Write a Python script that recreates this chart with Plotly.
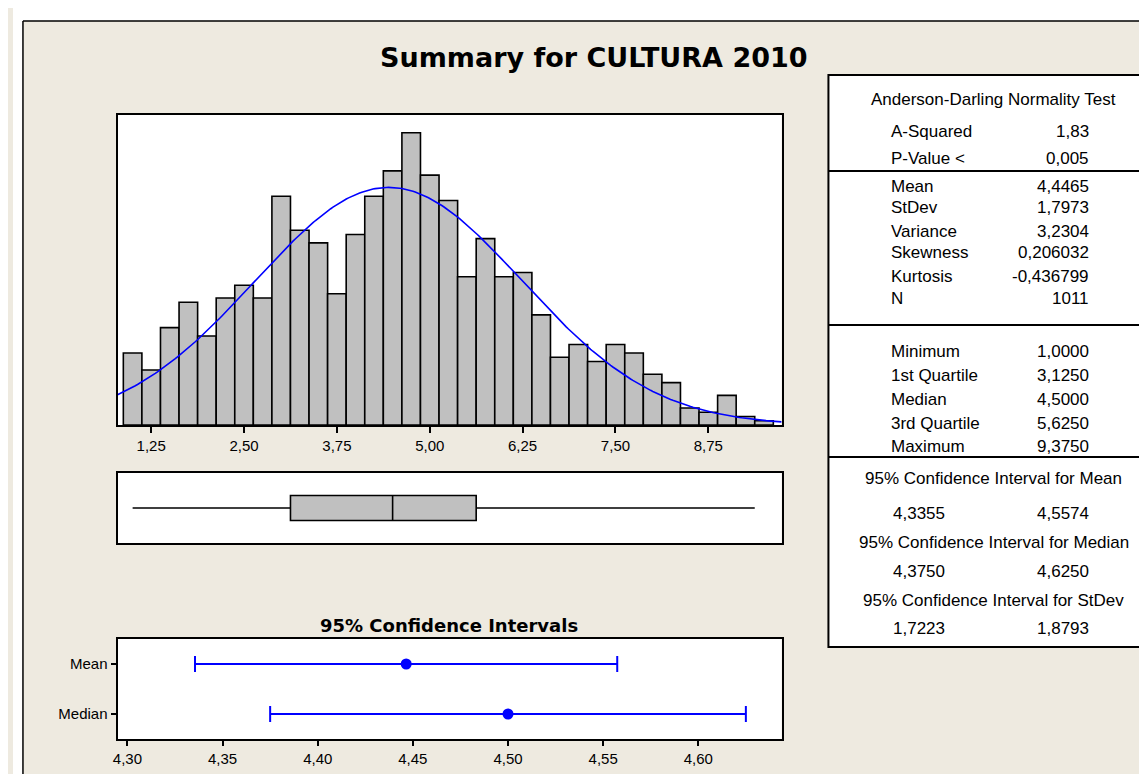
import numpy as np
import plotly.graph_objects as go

# ---------------- data ----------------
BIN_CENTERS = [1.00, 1.25, 1.50, 1.75, 2.00, 2.25, 2.50, 2.75, 3.00, 3.25,
               3.50, 3.75, 4.00, 4.25, 4.50, 4.75, 5.00, 5.25, 5.50, 5.75,
               6.00, 6.25, 6.50, 6.75, 7.00, 7.25, 7.50, 7.75, 8.00, 8.25,
               8.50, 8.75, 9.00, 9.25, 9.50]
COUNTS = [17, 13, 23, 29, 21, 30, 33, 30, 54, 46,
          43, 31, 45, 54, 60, 69, 59, 53, 35, 44,
          35, 36, 26, 16, 19, 15, 19, 17, 12, 10,
          4, 3, 7, 2, 1]
BIN_WIDTH = 0.25

HIST_TICKS = [1.25, 2.50, 3.75, 5.00, 6.25, 7.50, 8.75]
HIST_TICK_LABELS = ["1,25", "2,50", "3,75", "5,00", "6,25", "7,50", "8,75"]

MEAN = 4.4465
STDEV = 1.7973
N = 1011
MINIMUM = 1.0
Q1 = 3.125
MEDIAN = 4.5
Q3 = 5.625
MAXIMUM = 9.375

CI_LABELS = ["Mean", "Median"]
CI_CENTER = [MEAN, MEDIAN]
CI_LOW = [4.3355, 4.3750]
CI_HIGH = [4.5574, 4.6250]
CI_TICKS = [4.30, 4.35, 4.40, 4.45, 4.50, 4.55, 4.60]
CI_TICK_LABELS = ["4,30", "4,35", "4,40", "4,45", "4,50", "4,55", "4,60"]

TITLE = "Summary for CULTURA 2010"
CI_TITLE = "95% Confidence Intervals"

AD_ROWS = [("A-Squared", "1,83"), ("P-Value <", "0,005")]
MOM_ROWS = [("Mean", "4,4465"), ("StDev", "1,7973"), ("Variance", "3,2304"),
            ("Skewness", "0,206032"), ("Kurtosis", "-0,436799"), ("N", "1011")]
QUART_ROWS = [("Minimum", "1,0000"), ("1st Quartile", "3,1250"), ("Median", "4,5000"),
              ("3rd Quartile", "5,6250"), ("Maximum", "9,3750")]
CI_ROWS = [("95% Confidence Interval for Mean", "4,3355", "4,5574"),
           ("95% Confidence Interval for Median", "4,3750", "4,6250"),
           ("95% Confidence Interval for StDev", "1,7223", "1,8793")]

# ---------------- layout helpers ----------------
W, H = 1147, 774
BEIGE = "#EEEAE0"
GREY = "#C0C0C0"
BLUE = "#0000FF"
FONT = "Liberation Sans, Arial, sans-serif"
BOLD_FONT = "DejaVu Sans, Verdana, sans-serif"


def px(x):
    return x / W


def py(y):
    return 1 - y / H


HX = [px(105), px(772)]
HIST_XRANGE = [0.797, 9.737]

fig = go.Figure()

# histogram
fig.add_trace(go.Bar(x=BIN_CENTERS, y=COUNTS, width=BIN_WIDTH,
                     marker=dict(color=GREY, line=dict(color="black", width=1.6)),
                     xaxis="x", yaxis="y", hoverinfo="skip"))

# fitted normal curve (from the reported mean / stdev)
xs = np.linspace(HIST_XRANGE[0], HIST_XRANGE[1], 300)
ys = N * BIN_WIDTH * np.exp(-0.5 * ((xs - MEAN) / STDEV) ** 2) / (STDEV * np.sqrt(2 * np.pi))
fig.add_trace(go.Scatter(x=xs, y=ys, mode="lines", line=dict(color=BLUE, width=1.6),
                         xaxis="x", yaxis="y", hoverinfo="skip"))

# boxplot
fig.add_trace(go.Box(y=[0], q1=[Q1], median=[MEDIAN], q3=[Q3],
                     lowerfence=[MINIMUM], upperfence=[MAXIMUM], orientation="h",
                     width=1.0, whiskerwidth=0, fillcolor=GREY,
                     line=dict(color="black", width=1.6),
                     xaxis="x2", yaxis="y2", hoverinfo="skip"))

# confidence intervals
ci_y = [1, 0]
fig.add_trace(go.Scatter(
    x=CI_CENTER, y=ci_y, mode="markers",
    marker=dict(color=BLUE, size=11),
    error_x=dict(type="data", symmetric=False,
                 array=[h - c for h, c in zip(CI_HIGH, CI_CENTER)],
                 arrayminus=[c - l for l, c in zip(CI_LOW, CI_CENTER)],
                 color=BLUE, thickness=2, width=8),
    xaxis="x3", yaxis="y3", hoverinfo="skip"))

frame = dict(showline=True, mirror=True, linecolor="black", linewidth=2,
             showgrid=False, zeroline=False)
tickfont = dict(family=FONT, size=15, color="black")

fig.update_layout(
    width=W, height=H, margin=dict(l=0, r=0, t=0, b=0),
    paper_bgcolor=BEIGE, plot_bgcolor="white", showlegend=False,
    xaxis=dict(domain=HX, range=HIST_XRANGE, tickvals=HIST_TICKS, ticktext=HIST_TICK_LABELS,
               ticks="outside", ticklen=6, tickwidth=1.5, tickcolor="black", tickfont=tickfont,
               anchor="y", **frame),
    yaxis=dict(domain=[py(417), py(107)], range=[0, 73.2], showticklabels=False, ticks="",
               anchor="x", **frame),
    xaxis2=dict(domain=HX, range=HIST_XRANGE, showticklabels=False, ticks="",
                anchor="y2", **frame),
    yaxis2=dict(domain=[py(535), py(465)], range=[-1.4, 1.4], showticklabels=False, ticks="",
                anchor="x2", **frame),
    xaxis3=dict(domain=HX, range=[4.2948, 4.6438], tickvals=CI_TICKS, ticktext=CI_TICK_LABELS,
                ticks="outside", ticklen=5, tickwidth=1.5, tickcolor="black", tickfont=tickfont,
                anchor="y3", **frame),
    yaxis3=dict(domain=[py(731), py(631)], range=[-0.5, 1.5], tickvals=ci_y, ticktext=CI_LABELS,
                ticks="outside", ticklen=5, tickwidth=1.5, tickcolor="black", tickfont=tickfont,
                anchor="x3", **frame),
)

shapes = []
# white outer margin and outer border
shapes.append(dict(type="rect", xref="paper", yref="paper", x0=0, x1=px(10), y0=0, y1=1,
                   fillcolor="white", line=dict(width=0), layer="below"))
shapes.append(dict(type="rect", xref="paper", yref="paper", x0=0, x1=1, y0=py(13), y1=1,
                   fillcolor="white", line=dict(width=0), layer="below"))
shapes.append(dict(type="line", xref="paper", yref="paper", x0=px(10), x1=px(10), y0=0, y1=py(13),
                   line=dict(color="black", width=1.5)))
shapes.append(dict(type="line", xref="paper", yref="paper", x0=px(10), x1=1, y0=py(13), y1=py(13),
                   line=dict(color="black", width=1.5)))
# stats table
shapes.append(dict(type="rect", xref="paper", yref="paper", x0=px(819), x1=px(1170),
                   y0=py(639), y1=py(67), fillcolor="white", line=dict(color="black", width=2)))
for yl in [163, 317, 449]:
    shapes.append(dict(type="line", xref="paper", yref="paper", x0=px(819), x1=px(1170),
                       y0=py(yl), y1=py(yl), line=dict(color="black", width=2)))
fig.update_layout(shapes=shapes)

ann = []
ann.append(dict(text="<b>" + TITLE + "</b>", x=px(584), y=py(49), xref="paper", yref="paper",
                showarrow=False, xanchor="center", yanchor="middle",
                font=dict(family=BOLD_FONT, size=27, color="black")))
ann.append(dict(text="<b>" + CI_TITLE + "</b>", x=px(438), y=py(617), xref="paper", yref="paper",
                showarrow=False, xanchor="center", yanchor="middle",
                font=dict(family=BOLD_FONT, size=18, color="black")))

tfont = dict(family=FONT, size=17, color="black")
LX, RX, CX = 880, 1083, 985


def row(label, value, y):
    ann.append(dict(text=label, x=px(LX), y=py(y), xref="paper", yref="paper", showarrow=False,
                    xanchor="left", yanchor="middle", font=tfont))
    ann.append(dict(text=value, x=px(RX), y=py(y), xref="paper", yref="paper", showarrow=False,
                    xanchor="right", yanchor="middle", font=tfont))


def center(text, y):
    ann.append(dict(text=text, x=px(CX), y=py(y), xref="paper", yref="paper", showarrow=False,
                    xanchor="center", yanchor="middle", font=tfont))


center("Anderson-Darling Normality Test", 92)
for (lab, val), y in zip(AD_ROWS, [123, 150]):
    row(lab, val, y)
for (lab, val), y in zip(MOM_ROWS, [178, 200, 223, 245, 268, 290]):
    row(lab, val, y)
for (lab, val), y in zip(QUART_ROWS, [343, 367, 391, 415, 438]):
    row(lab, val, y)
for (title, lo, hi), (yt, yv) in zip(CI_ROWS, [(470, 505), (534, 563), (592, 620)]):
    center(title, yt)
    ann.append(dict(text=lo, x=px(882), y=py(yv), xref="paper", yref="paper", showarrow=False,
                    xanchor="left", yanchor="middle", font=tfont))
    ann.append(dict(text=hi, x=px(RX), y=py(yv), xref="paper", yref="paper", showarrow=False,
                    xanchor="right", yanchor="middle", font=tfont))

fig.update_layout(annotations=ann)

fig.write_html("out.html")
